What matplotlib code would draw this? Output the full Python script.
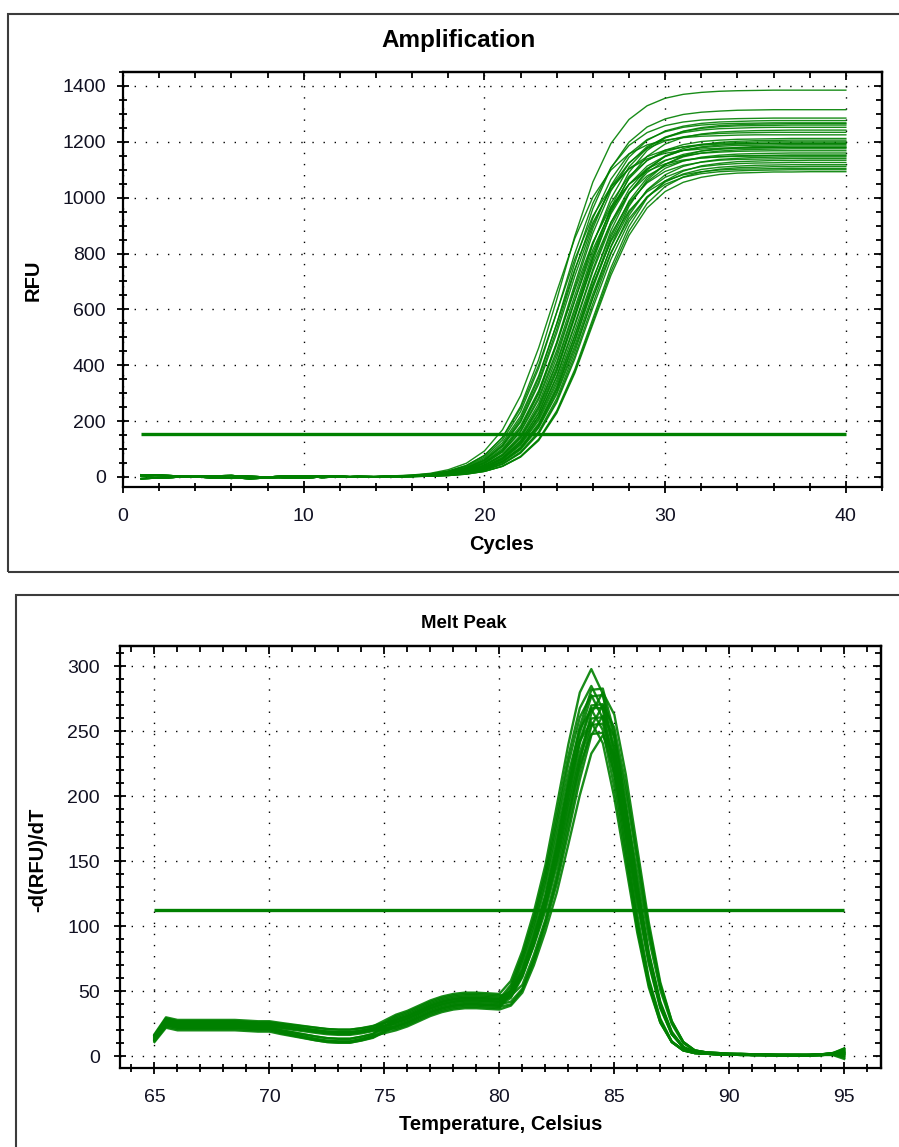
import matplotlib
matplotlib.use('Agg')
import matplotlib.pyplot as plt
from matplotlib.patches import Rectangle
from matplotlib.ticker import MultipleLocator

plt.rcParams['font.family'] = ['Liberation Sans', 'DejaVu Sans']

# ---------------- Amplification data (RFU per cycle) ----------------
amp_cycles = list(range(1, 41))
amp_threshold = 154

# early cycles 1..14 (baseline noise)
amp_base_a = [8, 5, 2, 0, -3, -5, -3, 0, 3, 2, -2, 0, 2, 1]
amp_base_b = [-6, -4, -1, 2, 4, 5, 2, 0, -3, -4, 0, 2, 0, 1]
amp_base_c = [3, 6, 4, 1, -2, -3, -6, -4, 0, 3, 4, 2, 0, 1]

# cycles 15..40
amp_01 = [3, 6, 11, 21, 41, 77, 142, 253, 420, 635, 862, 1056, 1194, 1280, 1329, 1356, 1370, 1377, 1381, 1383, 1384, 1385, 1385, 1385, 1385, 1385]
amp_02 = [2, 5, 9, 17, 33, 62, 116, 209, 354, 549, 766, 961, 1106, 1199, 1253, 1282, 1298, 1306, 1310, 1313, 1314, 1315, 1315, 1315, 1315, 1315]
amp_03 = [3, 5, 10, 20, 38, 71, 132, 234, 389, 589, 800, 980, 1108, 1187, 1233, 1258, 1271, 1278, 1281, 1283, 1284, 1285, 1285, 1285, 1285, 1285]
amp_04 = [2, 4, 7, 14, 27, 52, 97, 176, 303, 482, 691, 890, 1043, 1145, 1205, 1239, 1256, 1266, 1271, 1273, 1275, 1276, 1276, 1276, 1276, 1276]
amp_05 = [2, 4, 8, 16, 32, 60, 112, 201, 341, 529, 739, 927, 1066, 1156, 1208, 1236, 1252, 1260, 1264, 1266, 1267, 1268, 1268, 1268, 1268, 1268]
amp_06 = [2, 3, 6, 12, 23, 43, 82, 150, 263, 427, 630, 833, 997, 1110, 1178, 1217, 1237, 1248, 1254, 1257, 1258, 1259, 1260, 1260, 1260, 1260]
amp_07 = [2, 4, 7, 14, 27, 51, 95, 173, 297, 473, 678, 873, 1024, 1123, 1183, 1215, 1233, 1242, 1247, 1249, 1251, 1252, 1252, 1252, 1252, 1252]
amp_08 = [1, 3, 5, 10, 19, 36, 69, 128, 227, 376, 569, 773, 947, 1071, 1148, 1192, 1216, 1228, 1235, 1238, 1240, 1241, 1242, 1242, 1242, 1242]
amp_09 = [2, 4, 8, 16, 31, 58, 109, 196, 332, 515, 719, 902, 1038, 1125, 1176, 1203, 1218, 1226, 1230, 1232, 1233, 1234, 1234, 1234, 1234, 1234]
amp_10 = [2, 3, 6, 11, 22, 42, 79, 144, 253, 411, 606, 801, 959, 1068, 1133, 1170, 1190, 1201, 1206, 1209, 1210, 1211, 1212, 1212, 1212, 1212]
amp_11 = [1, 2, 4, 8, 16, 30, 57, 107, 192, 324, 503, 703, 882, 1014, 1099, 1149, 1176, 1190, 1198, 1202, 1204, 1205, 1206, 1206, 1206, 1206]
amp_12 = [2, 3, 7, 13, 25, 48, 91, 165, 285, 453, 650, 837, 981, 1077, 1133, 1165, 1182, 1191, 1195, 1197, 1199, 1200, 1200, 1200, 1200, 1200]
amp_13 = [1, 3, 5, 9, 18, 35, 66, 123, 218, 362, 548, 744, 911, 1030, 1104, 1147, 1170, 1182, 1188, 1192, 1193, 1194, 1195, 1195, 1195, 1195]
amp_14 = [2, 3, 6, 11, 21, 41, 77, 142, 248, 404, 595, 786, 942, 1048, 1113, 1149, 1169, 1179, 1184, 1187, 1188, 1189, 1190, 1190, 1190, 1190]
amp_15 = [1, 2, 3, 7, 13, 25, 48, 90, 163, 281, 447, 642, 826, 969, 1063, 1119, 1150, 1167, 1176, 1180, 1183, 1184, 1185, 1185, 1185, 1185]
amp_16 = [1, 2, 5, 9, 18, 35, 65, 121, 215, 357, 541, 735, 900, 1017, 1090, 1132, 1155, 1167, 1173, 1177, 1178, 1179, 1180, 1180, 1180, 1180]
amp_17 = [1, 2, 4, 8, 15, 29, 56, 104, 187, 316, 490, 685, 859, 988, 1071, 1119, 1146, 1160, 1167, 1171, 1173, 1174, 1175, 1175, 1175, 1175]
amp_18 = [2, 3, 7, 13, 25, 47, 89, 161, 277, 441, 633, 814, 955, 1048, 1103, 1134, 1150, 1159, 1163, 1166, 1167, 1168, 1168, 1168, 1168, 1168]
amp_19 = [1, 2, 4, 8, 15, 29, 55, 103, 184, 312, 484, 676, 848, 976, 1057, 1105, 1131, 1145, 1152, 1156, 1158, 1159, 1160, 1160, 1160, 1160]
amp_20 = [1, 3, 6, 11, 21, 40, 75, 137, 241, 391, 577, 762, 912, 1016, 1078, 1113, 1132, 1142, 1147, 1150, 1151, 1152, 1153, 1153, 1153, 1153]
amp_21 = [1, 2, 3, 7, 13, 24, 46, 87, 158, 272, 433, 621, 799, 937, 1028, 1082, 1112, 1128, 1137, 1141, 1144, 1145, 1146, 1146, 1146, 1146]
amp_22 = [1, 2, 5, 9, 17, 33, 63, 117, 208, 345, 523, 710, 869, 983, 1053, 1094, 1116, 1127, 1134, 1137, 1138, 1139, 1140, 1140, 1140, 1140]
amp_23 = [1, 1, 3, 5, 11, 20, 39, 74, 135, 237, 385, 567, 749, 897, 999, 1060, 1095, 1114, 1123, 1129, 1131, 1133, 1133, 1134, 1134, 1134]
amp_24 = [1, 2, 4, 8, 15, 28, 53, 100, 179, 303, 470, 656, 823, 947, 1026, 1073, 1098, 1111, 1118, 1122, 1124, 1125, 1126, 1126, 1126, 1126]
amp_25 = [1, 2, 3, 6, 12, 24, 45, 85, 154, 266, 422, 606, 779, 914, 1003, 1056, 1085, 1101, 1109, 1113, 1116, 1117, 1118, 1118, 1118, 1118]
amp_26 = [1, 1, 3, 5, 10, 20, 38, 72, 133, 232, 377, 556, 735, 880, 979, 1040, 1074, 1092, 1102, 1107, 1109, 1111, 1111, 1112, 1112, 1112]
amp_27 = [1, 2, 5, 9, 17, 32, 61, 114, 202, 335, 507, 688, 843, 953, 1021, 1060, 1082, 1093, 1099, 1102, 1103, 1104, 1105, 1105, 1105, 1105]
amp_28 = [1, 1, 3, 5, 10, 20, 38, 71, 130, 228, 371, 547, 722, 865, 963, 1022, 1055, 1073, 1083, 1088, 1090, 1092, 1092, 1093, 1093, 1093]
amp_29 = [4, 7, 13, 26, 49, 93, 169, 291, 462, 663, 854, 1002, 1099, 1157, 1189, 1206, 1215, 1220, 1222, 1224, 1225, 1225, 1225, 1225, 1225, 1225]
amp_30 = [3, 6, 11, 21, 41, 77, 141, 246, 400, 590, 780, 934, 1039, 1103, 1139, 1159, 1169, 1174, 1177, 1178, 1179, 1180, 1180, 1180, 1180, 1180]
amp_31 = [2, 4, 8, 15, 29, 55, 102, 183, 309, 480, 670, 841, 967, 1048, 1095, 1121, 1135, 1142, 1146, 1148, 1149, 1150, 1150, 1150, 1150, 1150]
amp_32 = [1, 2, 4, 7, 14, 27, 52, 97, 175, 296, 459, 641, 804, 925, 1003, 1048, 1073, 1086, 1093, 1096, 1098, 1099, 1100, 1100, 1100, 1100]
amp_33 = [1, 3, 5, 10, 19, 37, 70, 130, 231, 383, 580, 787, 965, 1091, 1169, 1214, 1238, 1251, 1258, 1261, 1263, 1264, 1265, 1265, 1265, 1265]
amp_34 = [3, 5, 9, 18, 35, 66, 123, 218, 362, 548, 744, 911, 1030, 1104, 1147, 1170, 1182, 1188, 1192, 1193, 1194, 1195, 1195, 1195, 1195, 1195]

amp_xticks = [0, 10, 20, 30, 40]
amp_yticks = [0, 200, 400, 600, 800, 1000, 1200, 1400]

# ---------------- Melt peak data (-d(RFU)/dT per 0.5 C) ----------------
melt_temp = [65.0, 65.5, 66.0, 66.5, 67.0, 67.5, 68.0, 68.5, 69.0, 69.5, 70.0,
             70.5, 71.0, 71.5, 72.0, 72.5, 73.0, 73.5, 74.0, 74.5, 75.0,
             75.5, 76.0, 76.5, 77.0, 77.5, 78.0, 78.5, 79.0, 79.5, 80.0,
             80.5, 81.0, 81.5, 82.0, 82.5, 83.0, 83.5, 84.0, 84.5, 85.0,
             85.5, 86.0, 86.5, 87.0, 87.5, 88.0, 88.5, 89.0, 89.5, 90.0,
             90.5, 91.0, 91.5, 92.0, 92.5, 93.0, 93.5, 94.0, 94.5, 95.0]
melt_threshold = 112.7

melt_01 = [16, 29, 27, 27, 27, 27, 27, 27, 26.5, 26, 26,
           25, 24, 23, 22, 21, 20.5, 20.5, 21.5, 23, 27.5,
           32, 35, 39, 43, 46, 48, 49, 49, 48.5, 48,
           58, 81, 111, 147, 193, 240, 280, 298, 279, 230, 170, 109, 60, 29, 11.5, 5, 2.5,
           2, 2, 1.5, 1.5, 1.5, 1, 1, 1, 1, 1, 1.5, 2, 4]
melt_02 = [16, 28, 26, 26, 26, 26, 26, 26, 25.5, 25, 25,
           23.4, 22, 20.6, 19.2, 18, 17.5, 17.5, 18.9, 20.8, 25.4,
           30, 33, 37, 41, 44, 46, 47, 47, 46.5, 46,
           50, 67, 93.5, 124, 164, 211, 254, 282, 283, 249, 194, 134, 80, 42, 19, 7, 3,
           2, 2, 1.5, 1.5, 1, 1, 1, 1, 0.5, 1, 1, 1.5, 2]
melt_03 = [17, 30, 28, 28, 28, 28, 28, 28, 27.5, 27, 27,
           25.7, 24.5, 23.3, 22.1, 21, 20.5, 20.5, 21.7, 23.4, 25.7,
           28, 31, 35, 39, 42, 44, 45, 45, 44.5, 44,
           55, 78, 107, 142, 186, 231, 268, 285, 267, 221, 163, 104, 58, 28, 11, 5, 2.5,
           2, 1.5, 1.5, 1, 1, 1, 1, 0.5, 0.5, 1, 1, 2, 6]
melt_04 = [13, 25, 23, 23, 23, 23, 23, 23, 22.5, 22, 22,
           20.1, 18.5, 16.9, 15.3, 14, 13.5, 13.5, 15.1, 17.2, 23.1,
           29, 32, 36, 40, 43, 45, 46, 46, 45.5, 45,
           49, 66, 92, 123, 162, 207, 249, 277, 278, 245, 191, 131, 79, 41, 18, 7, 3,
           2, 2, 1.5, 1.5, 1.5, 1, 1, 1, 1, 1, 1.5, 2, 1]
melt_05 = [15, 27, 25, 25, 25, 25, 25, 25, 24.5, 24, 24,
           23, 22, 21, 20, 19, 18.5, 18.5, 19.5, 21, 26,
           31, 34, 38, 42, 45, 47, 48, 48, 47.5, 47,
           46.5, 55, 78, 105, 140, 183, 227, 264, 280, 263, 217, 160, 103, 57, 27, 11, 4.5,
           3, 2.5, 2, 1.5, 1.5, 1.5, 1, 1, 1, 1, 1.5, 2.5, 5]
melt_06 = [12, 24, 22, 22, 22, 22, 22, 22, 21.5, 21, 21,
           18.8, 17, 15.2, 13.4, 12, 11.5, 11.5, 13.3, 15.6, 20.8,
           26, 29, 33, 37, 40, 42, 43, 43, 42.5, 42,
           53, 76, 105, 139, 181, 225, 261, 278, 260, 215, 158, 102, 56, 27, 11, 4.5, 2.5,
           2, 1.5, 1.5, 1.5, 1, 1, 1, 1, 1, 0.5, 1, 1.5, -1]
melt_07 = [14, 26, 24, 24, 24, 24, 24, 24, 23.5, 23, 23,
           22, 21, 20, 19, 18, 17.5, 17.5, 18.5, 20, 23.5,
           27, 30, 34, 38, 41, 43, 44, 44, 43.5, 43,
           48, 64, 90, 120, 158, 202, 243, 270, 271, 238, 186, 128, 77, 40, 18, 7, 3,
           2, 2, 1.5, 1.5, 1, 1, 1, 1, 1, 1, 1, 1.5, 3]
melt_08 = [16, 29, 27, 27, 27, 27, 27, 27, 26.5, 26, 26,
           24.4, 23, 21.6, 20.2, 19, 18.5, 18.5, 19.9, 21.8, 23.4,
           25, 28, 32, 36, 39, 41, 42, 42, 41.5, 41,
           46, 63, 89, 119, 157, 200, 241, 268, 268, 236, 184, 127, 76, 40, 18, 7, 3,
           2, 1.5, 1.5, 1.5, 1, 1, 1, 1, 1, 1, 1.5, 2, 3.5]
melt_09 = [12, 23, 21, 21, 21, 21, 21, 21, 20.5, 20, 20,
           17.8, 16, 14.2, 12.4, 11, 10.5, 10.5, 12.3, 14.6, 19.3,
           24, 27, 31, 35, 38, 40, 41, 41, 40.5, 40,
           42, 52, 75, 103, 136, 177, 219, 254, 270, 253, 209, 154, 99, 55, 27, 11, 4.5,
           3, 2.5, 2, 2, 1.5, 1.5, 1, 1, 1, 1, 1.5, 2, 0]
melt_10 = [15, 27, 25, 25, 25, 25, 25, 25, 24.5, 24, 24,
           22.7, 21.5, 20.3, 19.1, 18, 17.5, 17.5, 18.7, 20.4, 21.7,
           23, 26, 30, 34, 37, 39, 40, 40, 39.5, 39,
           51, 74, 101, 135, 176, 217, 252, 267, 251, 207, 153, 98, 55, 26, 11, 4.5, 2.5,
           2, 1.5, 1.5, 1, 1, 1, 1, 0.5, 0.5, 0.5, 1, 1.5, 1]
melt_11 = [13, 25, 23, 23, 23, 23, 23, 23, 22.5, 22, 22,
           20.1, 18.5, 16.9, 15.3, 14, 13.5, 13.5, 15.1, 17.2, 22.6,
           28, 31, 35, 39, 42, 44, 45, 45, 44.5, 44,
           48, 64, 88, 117, 153, 195, 234, 260, 261, 229, 179, 123, 74, 39, 17, 7, 3,
           2, 2, 1.5, 1.5, 1.5, 1, 1, 1, 1, 1, 1.5, 2, 5]
melt_12 = [16, 28, 26, 26, 26, 26, 26, 26, 25.5, 25, 25,
           23.4, 22, 20.6, 19.2, 18, 17.5, 17.5, 18.9, 20.8, 21.4,
           22, 25, 29, 33, 36, 38, 39, 39, 38.5, 38,
           40, 51, 73, 101, 133, 172, 213, 247, 262, 246, 203, 150, 96, 54, 26, 11, 4.5,
           3, 2.5, 2, 2, 1.5, 1.5, 1, 1, 1, 1, 1.5, 2.5, 6]
melt_13 = [11, 22, 20, 20, 20, 20, 20, 20, 19.5, 19, 19,
           17.1, 15.5, 13.9, 12.3, 11, 10.5, 10.5, 12.1, 14.2, 18.6,
           23, 26, 30, 34, 37, 39, 40, 40, 39.5, 39,
           45, 61, 86, 115, 150, 192, 230, 255, 256, 225, 176, 121, 73, 38, 17, 7, 3,
           2, 1.5, 1.5, 1, 1, 1, 0.5, 0.5, 0.5, 0.5, 1, 1, -2]
melt_14 = [14, 26, 24, 24, 24, 24, 24, 24, 23.5, 23, 23,
           21.7, 20.5, 19.3, 18.1, 17, 16.5, 16.5, 17.7, 19.4, 20.2,
           21, 24, 28, 32, 35, 37, 38, 38, 37.5, 37,
           49, 71, 98, 131, 170, 209, 243, 257, 241, 199, 147, 95, 53, 26, 11, 4.5, 2.5,
           2, 1.5, 1.5, 1.5, 1, 1, 1, 1, 1, 1, 1, 1.5, 2]
melt_15 = [15, 27, 25, 25, 25, 25, 25, 25, 24.5, 24, 24,
           23, 22, 21, 20, 19, 18.5, 18.5, 19.5, 21, 23.5,
           26, 29, 33, 37, 40, 42, 43, 43, 42.5, 42,
           47, 62, 85, 112, 147, 186, 224, 248, 249, 218, 171, 118, 71, 37, 17, 7, 3,
           2, 2, 1.5, 1.5, 1, 1, 1, 1, 1, 1, 1, 1.5, 2.5]
melt_16 = [12, 24, 22, 22, 22, 22, 22, 22, 21.5, 21, 21,
           18.8, 17, 15.2, 13.4, 12, 11.5, 11.5, 13.3, 15.6, 17.8,
           20, 23, 27, 31, 34, 36, 37, 37, 36.5, 36,
           39, 49, 70, 96, 126, 163, 201, 233, 247, 232, 191, 141, 91, 51, 25, 10, 4.5,
           3, 2.5, 2, 1.5, 1.5, 1, 1, 1, 1, 1, 1.5, 2, 3]

melt_xticks = [65, 70, 75, 80, 85, 90, 95]
melt_yticks = [0, 50, 100, 150, 200, 250, 300]

# ---------------- drawing ----------------
GREEN = '#008000'
W, H = 899, 1147
fig = plt.figure(figsize=(W / 100, H / 100), dpi=100)


def fx(px):
    return px / W


def fy(py):
    return 1 - py / H


# panel frames
fig.patches.append(Rectangle((fx(8), fy(572)), 1.2, (572 - 14) / H, transform=fig.transFigure,
                             fill=False, ec='#3c3c3c', lw=1.5, zorder=0))
fig.patches.append(Rectangle((fx(15.5), -0.1), 1.2, fy(595) + 0.1, transform=fig.transFigure,
                             fill=False, ec='#3c3c3c', lw=1.5, zorder=0))

ax1 = fig.add_axes([fx(123), fy(487), (882 - 123) / W, (487 - 72) / H])
ax2 = fig.add_axes([fx(120), fy(1068), (881 - 120) / W, (1068 - 645.7) / H])


def style(ax, xlim, ylim, xticks, yticks, xminor, yminor, xpad, ypad):
    ax.set_xlim(*xlim)
    ax.set_ylim(*ylim)
    ax.set_xticks(xticks)
    ax.set_yticks(yticks)
    ax.xaxis.set_minor_locator(MultipleLocator(xminor))
    ax.yaxis.set_minor_locator(MultipleLocator(yminor))
    ax.set_axisbelow(True)
    ax.grid(True, which='major', color='black', linestyle=(0, (1, 7)), linewidth=1.0)
    ax.tick_params(which='both', direction='inout', top=False, right=False,
                   width=1.3, color='black', labelsize=14, labelcolor='#111122')
    ax.tick_params(which='major', length=9)
    ax.tick_params(which='minor', length=6)
    ax.tick_params(axis='x', pad=xpad)
    ax.tick_params(axis='y', pad=ypad)
    for s in ax.spines.values():
        s.set_linewidth(1.6)
        s.set_color('black')
    sx = ax.secondary_xaxis('top')
    sx.set_xticks(xticks)
    sx.xaxis.set_minor_locator(MultipleLocator(xminor))
    sx.tick_params(which='both', direction='in', labeltop=False, width=1.3)
    sx.tick_params(which='major', length=6)
    sx.tick_params(which='minor', length=4.5)
    sx.spines['top'].set_linewidth(1.6)
    sy = ax.secondary_yaxis('right')
    sy.set_yticks(yticks)
    sy.yaxis.set_minor_locator(MultipleLocator(yminor))
    sy.tick_params(which='both', direction='in', labelright=False, width=1.3)
    sy.tick_params(which='major', length=6)
    sy.tick_params(which='minor', length=4.5)
    sy.spines['right'].set_linewidth(1.6)


# Amplification
amp_rises = [amp_01, amp_02, amp_03, amp_04, amp_05, amp_06, amp_07, amp_08, amp_09, amp_10,
             amp_11, amp_12, amp_13, amp_14, amp_15, amp_16, amp_17, amp_18, amp_19, amp_20,
             amp_21, amp_22, amp_23, amp_24, amp_25, amp_26, amp_27, amp_28, amp_29, amp_30,
             amp_31, amp_32, amp_33, amp_34]
amp_bases = [amp_base_a, amp_base_b, amp_base_c]
for k, rise in enumerate(amp_rises):
    ax1.plot(amp_cycles, amp_bases[k % 3] + rise, color=GREEN, lw=1.0, alpha=0.9,
             solid_joinstyle='round')
ax1.plot([amp_cycles[0], amp_cycles[-1]], [amp_threshold, amp_threshold], color=GREEN, lw=2.4,
         solid_capstyle='butt')
style(ax1, (0, 42), (-36, 1450), amp_xticks, amp_yticks, 2, 50, 10.5, 8)

# Melt peak
melt_curves = [melt_01, melt_02, melt_03, melt_04, melt_05, melt_06, melt_07, melt_08,
               melt_09, melt_10, melt_11, melt_12, melt_13, melt_14, melt_15, melt_16]
for curve in melt_curves:
    ax2.plot(melt_temp, curve, color=GREEN, lw=1.7, alpha=0.9, solid_joinstyle='round')
ax2.plot([melt_temp[0], melt_temp[-1]], [melt_threshold, melt_threshold], color=GREEN, lw=2.4,
         solid_capstyle='butt')
style(ax2, (63.5, 96.6), (-9, 316), melt_xticks, melt_yticks, 1, 10, 10.5, 10)

# Titles and axis labels
fig.text(fx(459), fy(40), 'Amplification', ha='center', va='center', fontsize=17.5,
         fontweight='bold')
fig.text(fx(502), fy(545), 'Cycles', ha='center', va='center', fontsize=14.5, fontweight='bold')
fig.text(fx(33), fy(280), 'RFU', ha='center', va='center', rotation=90, fontsize=14.5,
         fontweight='bold')
fig.text(fx(464), fy(623), 'Melt Peak', ha='center', va='center', fontsize=13.4,
         fontweight='bold')
fig.text(fx(501), fy(1125), 'Temperature, Celsius', ha='center', va='center', fontsize=14.5,
         fontweight='bold')
fig.text(fx(38), fy(860), '-d(RFU)/dT', ha='center', va='center', rotation=90, fontsize=14.5,
         fontweight='bold')

fig.savefig('out.png', dpi=100)
